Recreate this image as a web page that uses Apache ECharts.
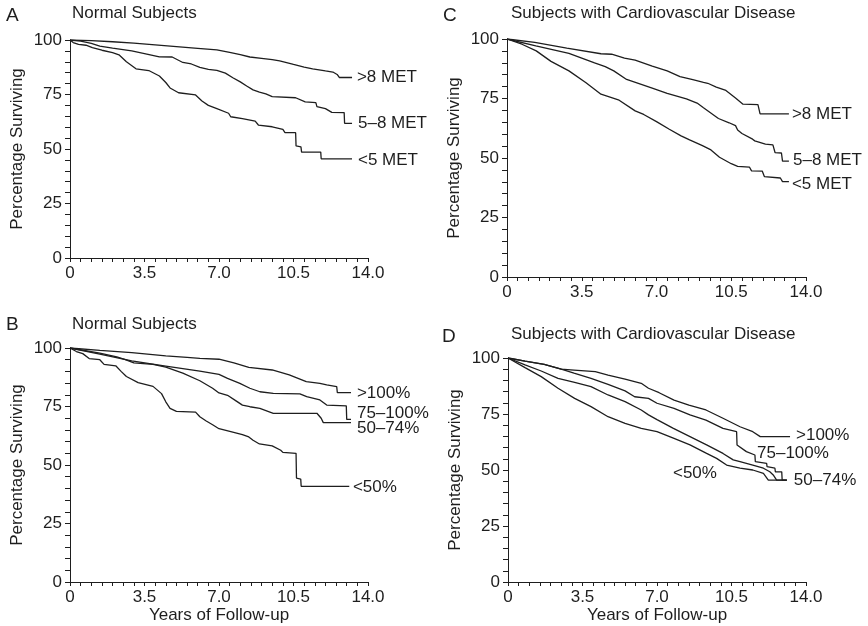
<!DOCTYPE html>
<html>
<head>
<meta charset="utf-8">
<script src="https://cdn.jsdelivr.net/npm/echarts@6/dist/echarts.min.js"></script>
<style>
html,body{margin:0;padding:0;background:#fff;}
#c{width:868px;height:626px;}
</style>
</head>
<body>
<div id="c"></div>
<script>
// ---- data (years of follow-up, percentage surviving) ----
const xTickLabels = ['0', '3.5', '7.0', '10.5', '14.0'];
const yTickLabels = ['0', '25', '50', '75', '100'];

// Panel A: Normal Subjects, by exercise capacity
const seriesNamesA = ['>8 MET', '5–8 MET', '<5 MET'];
const a_gt8 = [[0,100],[1,99.7],[2,99.2],[3,98.6],[4,97.8],[5,97],[6,96.2],[6.9,95.5],[7.5,94.3],[8,93.3],[8.45,92.2],[9,91.6],[9.5,91.0],[9.85,90.4],[10.5,88.8],[11,87.6],[11.4,86.8],[12,85.8],[12.35,85.3],[12.55,84.2],[12.65,82.8],[13.25,82.8]];
const a_5to8 = [[0,100],[0.5,99.5],[1,98.5],[1.4,97.2],[2,96.3],[2.9,95],[3.5,93.8],[4.2,92.3],[4.8,92.2],[5.3,89.7],[5.7,89.0],[6.1,87.4],[6.5,86.5],[6.9,86.1],[7.3,84.8],[7.65,82.7],[8,80.8],[8.3,78.9],[8.6,77.1],[8.9,76.1],[9.2,75.3],[9.5,74],[10.6,73.5],[11.05,71.6],[11.55,71.3],[11.6,69.4],[12.0,68.5],[12.3,66.8],[12.88,66.7],[12.9,61.8],[13.25,61.8]];
const a_lt5 = [[0,100],[0.15,98.8],[0.4,98],[0.75,97.6],[1.05,96.5],[1.5,95.3],[2.0,94.2],[2.3,93.2],[2.65,90],[3.1,86.8],[3.7,86],[4.2,83.5],[4.5,80.5],[4.7,78],[5.1,75.8],[5.9,74.8],[6.2,72],[6.5,70],[6.9,68.5],[7.45,66.4],[7.55,64.8],[8.1,63.9],[8.7,62.8],[8.85,61],[9.5,60.2],[10.0,59],[10.1,57.5],[10.6,57.5],[10.62,51.4],[10.85,51],[10.88,48.6],[11.78,48.6],[11.8,45.5],[13.25,45.5]];

// Panel C: Subjects with Cardiovascular Disease, by exercise capacity
const seriesNamesC = ['>8 MET', '5–8 MET', '<5 MET'];
const c_gt8 = [[0,100],[1.3,98.6],[2.8,96.2],[4.4,93.8],[4.9,93.6],[5.5,92],[6,91.1],[6.8,88.6],[7.5,86.6],[8.1,84.2],[8.7,82.9],[9.2,81.8],[9.4,81.4],[9.8,79.8],[10.25,78.4],[10.7,75.2],[11.05,72.6],[11.75,72.4],[11.85,68.5],[13.2,68.5]];
const c_5to8 = [[0,100],[1.35,97.1],[2.9,94],[4.1,90],[4.6,88.4],[5.0,86.6],[5.6,83],[6.8,79.4],[7.5,77.2],[8.4,74.8],[8.9,73.1],[9.2,71.1],[9.9,66.6],[10.4,64.8],[10.7,63.6],[10.8,61.8],[11.0,60.3],[11.5,57.9],[11.6,57.2],[12.1,55.8],[12.45,55.5],[12.55,52.3],[12.85,52.1],[12.9,48.7],[13.2,48.7]];
const c_lt5 = [[0,100],[0.7,97.8],[1.37,95],[2.06,90.6],[2.9,86.6],[3.7,81.6],[4.4,76.8],[5.25,74.3],[6.0,69.8],[6.4,68.3],[7.0,65.3],[7.6,62.1],[8.15,59.3],[8.55,57.6],[9.15,55.2],[9.55,53.4],[9.95,50.3],[10.5,47.6],[10.8,46.5],[11.35,46.2],[11.45,44.6],[11.95,44.5],[12.05,42.2],[12.8,41.6],[12.9,40.1],[13.2,40.1]];

// Panel B: Normal Subjects, by percentage of age-predicted exercise capacity
const seriesNamesB = ['>100%', '75–100%', '50–74%', '<50%'];
const b_gt100 = [[0,100],[1.4,99],[2.9,98],[4.5,96.6],[5.5,96],[6.1,95.6],[7.0,95.2],[7.7,93.6],[8.4,91.7],[9.5,90.6],[10.3,88.5],[11.1,85.6],[11.74,84.9],[12.06,84.2],[12.53,83.5],[12.56,80.9],[13.2,80.9]];
const b_75to100 = [[0,100],[1.4,97.4],[2.9,94.5],[4.5,92.3],[6.1,90.1],[7.0,88.7],[7.4,87],[7.98,84.9],[8.45,82.8],[8.92,81.3],[9.55,80.6],[10.8,80.4],[11.12,79.2],[11.74,77.8],[12.06,75.6],[12.98,75.3],[13.0,69.5],[13.2,69.5]];
const b_50to74 = [[0,100],[1.4,97.8],[2.2,96.2],[2.6,95],[3.0,93.6],[3.9,93],[4.5,91.8],[5.3,89.3],[6.1,86],[6.7,82.8],[7.0,80.8],[7.4,79.8],[7.8,77.4],[8.1,75.6],[8.45,74.9],[8.92,74.2],[9.55,72.1],[11.6,72.1],[11.8,70],[11.9,68.1],[13.2,68.1]];
const b_lt50 = [[0,100],[0.3,98.5],[0.6,97.6],[0.9,95.5],[1.4,95],[1.6,93],[2.15,92.4],[2.4,90],[2.65,87.8],[3.2,85.2],[3.9,83.6],[4.3,80.5],[4.5,77],[4.7,74.2],[5.0,72.9],[5.9,72.6],[6.1,70.6],[6.4,68.8],[6.7,67.2],[7.0,65.5],[7.6,64.2],[8.1,63],[8.4,62],[8.6,60.6],[8.9,59],[9.5,58.2],[9.9,56.3],[10.0,55.4],[10.62,55],[10.64,44.4],[10.84,44],[10.86,40.9],[13.12,40.9]];

// Panel D: Subjects with Cardiovascular Disease, by percentage of age-predicted exercise capacity
const seriesNamesD = ['>100%', '75–100%', '50–74%', '<50%'];
const d_gt100 = [[0,100],[0.8,98.6],[1.7,97.2],[2.5,95],[3.1,94.6],[4.1,93.9],[4.7,92.4],[5.5,90.6],[6.26,88.7],[6.6,86.5],[7.1,84.5],[7.8,81.2],[8.5,79],[9.3,76.8],[10.1,73.1],[10.9,69.3],[11.5,67.1],[11.85,64.9],[13.25,64.9]];
const d_75to100 = [[0,100],[0.8,98.6],[1.7,97.2],[2.5,95],[3.1,93.2],[3.9,90.9],[4.7,88.2],[5.5,85.3],[5.95,82.7],[6.6,82],[7.0,79.8],[7.8,77.5],[8.55,74.6],[9.3,72.3],[10.1,68.6],[10.74,67.1],[10.76,61.2],[11.2,58.2],[11.6,56.7],[11.62,53.7],[12.15,53],[12.17,51.5],[12.54,50.8],[12.56,49.2],[12.86,49.2],[12.88,45.5],[13.1,45.5]];
const d_50to74 = [[0,100],[0.8,96.9],[1.56,94.2],[2.35,90.9],[3.13,89.1],[3.9,87.2],[4.7,83.5],[5.5,80.5],[6.26,76.8],[6.6,74.6],[7.0,72.5],[7.77,68.6],[8.55,64.9],[9.33,61.2],[10.1,57.4],[10.58,54.5],[10.9,53.7],[11.5,52.2],[12.0,50.8],[12.3,49.2],[12.46,47.8],[12.62,45.5],[13.1,45.5]];
const d_lt50 = [[0,100],[0.8,95.7],[1.56,91.7],[2.35,86.5],[3.13,82],[3.9,78.3],[4.7,73.8],[5.5,70.8],[6.26,68.6],[7.0,67.1],[7.77,64.2],[8.55,61.2],[9.33,57.4],[9.8,55.2],[10.27,52.2],[10.9,50.8],[11.5,50],[12.0,48.5],[12.23,45.5],[13.1,45.5]];

// ---- chart ----
const FONT = '"Liberation Sans", Arial, Helvetica, sans-serif';
const INK = '#1e1e1e';
const chart = echarts.init(document.getElementById('c'), null, {renderer: 'canvas'});

const grids = [
  {left: 70, top: 40, width: 298, height: 218},   // A
  {left: 507, top: 39, width: 299, height: 238},  // C
  {left: 70, top: 348, width: 298, height: 234},  // B
  {left: 508, top: 358, width: 298, height: 224}  // D
];

function xAxisFor(i, withName) {
  return {
    type: 'value', gridIndex: i, min: 0, max: 14, interval: 3.5,
    name: withName ? 'Years of Follow-up' : '',
    nameLocation: 'middle', nameGap: 24,
    nameTextStyle: {fontFamily: FONT, fontSize: 17, color: INK},
    axisLine: {show: true, lineStyle: {color: INK, width: 1}},
    axisTick: {show: true, length: 4, lineStyle: {color: INK, width: 1}},
    minorTick: {show: true, splitNumber: 7, length: 4, lineStyle: {color: INK, width: 1}},
    splitLine: {show: false},
    axisLabel: {
      margin: 7, fontFamily: FONT, fontSize: 17, color: INK,
      formatter: v => xTickLabels[Math.round(v / 3.5)]
    }
  };
}
function yAxisFor(i) {
  return {
    type: 'value', gridIndex: i, min: 0, max: 100, interval: 25,
    name: 'Percentage Surviving', nameLocation: 'middle', nameGap: 44,
    nameTextStyle: {fontFamily: FONT, fontSize: 17, color: INK},
    axisLine: {show: true, lineStyle: {color: INK, width: 1}},
    axisTick: {show: true, length: 5, lineStyle: {color: INK, width: 1}},
    minorTick: {show: true, splitNumber: 5, length: 5, lineStyle: {color: INK, width: 1}},
    splitLine: {show: false},
    axisLabel: {
      margin: 8, fontFamily: FONT, fontSize: 17, color: INK,
      formatter: v => yTickLabels[Math.round(v / 25)]
    }
  };
}

function curve(gi, data, name, labelCoord) {
  return {
    type: 'line', xAxisIndex: gi, yAxisIndex: gi, name: name,
    data: data, showSymbol: false, symbol: 'none', smooth: false,
    lineStyle: {color: INK, width: 1.3},
    silent: true,
    markPoint: {
      symbol: 'rect', symbolSize: 0, silent: true,
      label: {show: true, position: 'right', distance: 0, fontFamily: FONT, fontSize: 17, color: INK,
              formatter: () => name},
      data: [{coord: labelCoord}]
    }
  };
}

const titleStyle = {fontFamily: FONT, fontSize: 17, fontWeight: 'normal', color: INK};
const letterStyle = {fontFamily: FONT, fontSize: 19, fontWeight: 'normal', color: INK};

const option = {
  animation: false,
  backgroundColor: '#fff',
  title: [
    {text: 'A', left: 6, top: 6, padding: 0, textStyle: letterStyle},
    {text: 'Normal Subjects', left: 72, top: 5, padding: 0, textStyle: titleStyle},
    {text: 'C', left: 443, top: 6, padding: 0, textStyle: letterStyle},
    {text: 'Subjects with Cardiovascular Disease', left: 511, top: 5, padding: 0, textStyle: titleStyle},
    {text: 'B', left: 6, top: 315, padding: 0, textStyle: letterStyle},
    {text: 'Normal Subjects', left: 72, top: 316, padding: 0, textStyle: titleStyle},
    {text: 'D', left: 442, top: 327, padding: 0, textStyle: letterStyle},
    {text: 'Subjects with Cardiovascular Disease', left: 511, top: 326, padding: 0, textStyle: titleStyle}
  ],
  grid: grids,
  xAxis: [xAxisFor(0, false), xAxisFor(1, false), xAxisFor(2, true), xAxisFor(3, true)],
  yAxis: [yAxisFor(0), yAxisFor(1), yAxisFor(2), yAxisFor(3)],
  series: [
    curve(0, a_gt8, seriesNamesA[0], [13.48, 83.0]),
    curve(0, a_5to8, seriesNamesA[1], [13.53, 61.9]),
    curve(0, a_lt5, seriesNamesA[2], [13.53, 45.0]),
    curve(1, c_gt8, seriesNamesC[0], [13.34, 68.5]),
    curve(1, c_5to8, seriesNamesC[1], [13.39, 49.2]),
    curve(1, c_lt5, seriesNamesC[2], [13.34, 39.1]),
    curve(2, b_gt100, seriesNamesB[0], [13.48, 80.8]),
    curve(2, b_75to100, seriesNamesB[1], [13.48, 72.2]),
    curve(2, b_50to74, seriesNamesB[2], [13.48, 65.8]),
    curve(2, b_lt50, seriesNamesB[3], [13.29, 40.6]),
    curve(3, d_gt100, seriesNamesD[0], [13.53, 65.6]),
    curve(3, d_75to100, seriesNamesD[1], [11.7, 57.6]),
    curve(3, d_50to74, seriesNamesD[2], [13.43, 45.5]),
    curve(3, d_lt50, seriesNamesD[3], [7.75, 48.7])
  ]
};
chart.setOption(option);
</script>
</body>
</html>
